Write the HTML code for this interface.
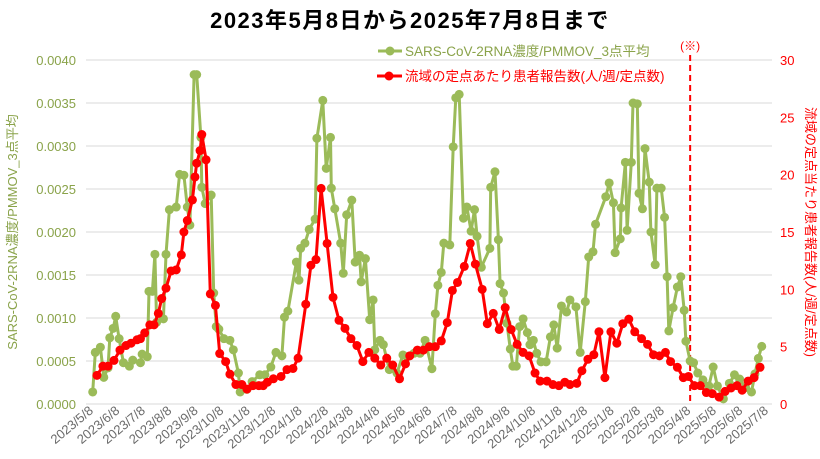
<!DOCTYPE html>
<html><head><meta charset="utf-8"><style>
body{margin:0;background:#fff;}
svg{display:block;font-family:"Liberation Sans","Noto Sans CJK JP",sans-serif;}
</style></head><body>
<svg id="c" width="820" height="459" viewBox="0 0 820 459"></svg>
<script>
const monthLabels=["2023/5/8","2023/6/8","2023/7/8","2023/8/8","2023/9/8","2023/10/8","2023/11/8","2023/12/8","2024/1/8","2024/2/8","2024/3/8","2024/4/8","2024/5/8","2024/6/8","2024/7/8","2024/8/8","2024/9/8","2024/10/8","2024/11/8","2024/12/8","2025/1/8","2025/2/8","2025/3/8","2025/4/8","2025/5/8","2025/6/8","2025/7/8"];
const leftTicks=[0,0.0005,0.001,0.0015,0.002,0.0025,0.003,0.0035,0.004];
const rightTicks=[0,5,10,15,20,25,30];
const redDays=[7,14,20,27,34,41,47,54,58,63,69,74,79,83,88,94,100,106,109,113,119,122,124,128,130,135,140,146,151,158,163,170,177,183,190,197,202,207,214,223,230,237,243,252,258,264,270,277,284,291,298,305,312,319,326,333,340,347,354,362,369,374,383,390,397,404,411,418,424,430,438,445,451,459,465,472,479,486,493,500,507,514,521,527,535,542,549,556,562,570,576,583,590,596,603,610,617,624,631,638,646,653,660,667,674,680,688,695,701,708,715,722,729,737,744,751,758,764,771,778,785];
const redVals=[2.5,3.3,3.3,3.8,4.7,5.1,5.3,5.6,5.7,6.2,6.9,6.9,7.9,9.2,10.1,11.6,11.7,13.0,15.0,16.0,17.8,19.8,21.0,22.1,23.5,21.3,9.6,8.6,4.4,3.7,2.6,1.7,1.7,1.3,1.6,1.6,1.6,1.9,2.2,2.4,3.0,3.1,4.0,8.7,12.1,12.6,18.8,14.0,9.3,7.3,6.6,5.7,5.1,3.7,4.5,4.0,3.4,4.0,3.4,2.2,3.5,4.2,4.7,4.7,5.0,5.0,5.5,7.1,9.9,10.6,12.0,14.0,12.2,10.0,7.0,7.9,6.5,8.4,6.5,5.2,4.5,4.2,2.7,2.0,2.0,1.7,1.6,1.9,1.7,1.8,2.9,3.9,4.3,6.3,2.3,6.3,5.3,7.0,7.4,6.3,5.7,5.2,4.3,4.2,4.5,3.7,3.2,2.3,2.4,1.6,1.6,1.0,0.9,0.6,1.1,1.4,1.6,1.2,2.0,2.3,3.2];
const greenDays=[2,5,11,15,20,22,26,29,33,38,45,49,58,60,66,68,72,75,77,85,88,92,100,104,109,113,116,121,124,129,130,134,141,144,147,150,156,163,167,173,175,183,189,198,204,211,217,224,227,231,241,244,246,251,256,263,265,272,276,281,282,286,293,296,300,306,310,315,317,322,327,331,333,339,343,350,359,366,371,379,386,392,400,404,407,411,414,421,425,428,432,437,441,446,450,453,458,468,469,474,478,480,484,488,492,495,499,503,507,512,515,519,523,528,534,539,543,547,552,558,562,569,574,580,584,589,592,604,608,613,615,621,622,627,629,634,636,641,643,647,650,655,657,662,664,669,673,676,678,683,688,692,696,698,703,707,712,718,725,730,735,742,749,755,761,768,775,779,783,787];
const greenVals=[0.00014,0.00060,0.00066,0.00031,0.00042,0.00077,0.00088,0.00102,0.00076,0.00048,0.00044,0.00051,0.00048,0.00058,0.00055,0.00131,0.00131,0.00174,0.00095,0.00099,0.00174,0.00226,0.00229,0.00267,0.00266,0.00229,0.00208,0.00383,0.00383,0.00310,0.00252,0.00233,0.00243,0.00129,0.00090,0.00087,0.00076,0.00074,0.00063,0.00036,0.00014,0.00017,0.00026,0.00034,0.00034,0.00043,0.00060,0.00056,0.00101,0.00108,0.00165,0.00144,0.00181,0.00187,0.00203,0.00215,0.00309,0.00353,0.00274,0.00310,0.00251,0.00227,0.00187,0.00152,0.00220,0.00237,0.00165,0.00173,0.00142,0.00169,0.00098,0.00121,0.00063,0.00074,0.00069,0.00040,0.00036,0.00057,0.00055,0.00059,0.00059,0.00074,0.00041,0.00105,0.00138,0.00153,0.00187,0.00185,0.00299,0.00356,0.00360,0.00216,0.00229,0.00201,0.00226,0.00195,0.00159,0.00181,0.00252,0.00270,0.00191,0.00140,0.00129,0.00094,0.00064,0.00044,0.00044,0.00090,0.00099,0.00083,0.00069,0.00074,0.00059,0.00049,0.00049,0.00078,0.00092,0.00065,0.00114,0.00107,0.00121,0.00113,0.00060,0.00119,0.00171,0.00177,0.00209,0.00241,0.00257,0.00234,0.00176,0.00192,0.00228,0.00281,0.00202,0.00281,0.00350,0.00349,0.00245,0.00227,0.00297,0.00258,0.00200,0.00162,0.00251,0.00251,0.00217,0.00148,0.00085,0.00112,0.00136,0.00148,0.00109,0.00073,0.00050,0.00048,0.00036,0.00028,0.00021,0.00043,0.00021,0.00006,0.00024,0.00034,0.00029,0.00019,0.00014,0.00035,0.00053,0.00067];
const markerDay=703;

const NS="http://www.w3.org/2000/svg";
const svg=document.getElementById('c');
const X0=91,KX=675/792,Y0=404,YTOP=60;
function xs(d){return X0+d*KX;}
function yl(v){return Y0-(v/0.004)*(Y0-YTOP);}
function yr(v){return Y0-(v/30)*(Y0-YTOP);}
function mk(tag,attrs,txt){const e=document.createElementNS(NS,tag);for(const k in attrs)e.setAttribute(k,attrs[k]);if(txt!=null)e.textContent=txt;svg.appendChild(e);return e;}
const GREEN="#9bbb59",RED="#ff0000";

let e=mk('text',{x:410,y:28,'text-anchor':'middle','font-size':22,'font-weight':'bold','letter-spacing':'1.5',fill:'#000'},'2023年5月8日から2025年7月8日まで');



leftTicks.forEach(v=>{
  const y=yl(v);
  let g=mk('line',{x1:86,x2:772,y1:y,y2:y,stroke:'#d9d9d9','stroke-width':1});
  
  
  let t=mk('text',{x:76,y:y+5,'text-anchor':'end','font-size':13,fill:'#8aa34a'},v.toFixed(4));
  
  
});
rightTicks.forEach(v=>{
  let t=mk('text',{x:780,y:yr(v)+5,'font-size':13,fill:RED},String(v));
  
  
});
monthLabels.forEach(lbl=>{
  const p=lbl.split('/');
  const d=(new Date(+p[0],+p[1]-1,+p[2])-new Date(2023,4,8))/86400000;
  const x=xs(d);
  let t=mk('text',{x:x+3,y:412,'text-anchor':'end','font-size':13,fill:'#6b6b6b',transform:`rotate(-40 ${x+3} 412)`},lbl);
  
  
});

e=mk('text',{x:17,y:232,'text-anchor':'middle','font-size':13,fill:'#8aa34a',transform:'rotate(-90 17 232)'},'SARS-CoV-2RNA濃度/PMMOV_3点平均');


e=mk('text',{x:806,y:232,'text-anchor':'middle','font-size':13,fill:RED,transform:'rotate(90 806 232)'},'流域の定点当たり患者報告数(人/週/定点数)');



const xm=xs(markerDay);
e=mk('line',{x1:xm,x2:xm,y1:55,y2:404,stroke:RED,'stroke-width':2,'stroke-dasharray':'6,4'});


e=mk('text',{x:xm,y:50,'text-anchor':'middle','font-size':12,fill:RED},'(※)');



function series(days,vals,yf,color,name){
  const pts=days.map((d,i)=>xs(d).toFixed(1)+','+yf(vals[i]).toFixed(1)).join(' ');
  let l=mk('polyline',{points:pts,fill:'none',stroke:color,'stroke-width':3,'stroke-linejoin':'round'});
  
  
  days.forEach((d,i)=>{
    let c=mk('circle',{cx:xs(d),cy:yf(vals[i]),r:4.5,fill:color});
    
    
  });
}
series(greenDays,greenVals,yl,GREEN,'rna-concentration');
series(redDays,redVals,yr,RED,'patient-reports');

e=mk('line',{x1:378,x2:402,y1:51,y2:51,stroke:GREEN,'stroke-width':3});


e=mk('circle',{cx:390,cy:51,r:4.5,fill:GREEN});


e=mk('text',{x:405,y:56,'font-size':13.5,fill:'#8aa34a'},'SARS-CoV-2RNA濃度/PMMOV_3点平均');


e=mk('line',{x1:377,x2:402,y1:76,y2:76,stroke:RED,'stroke-width':3});


e=mk('circle',{cx:389,cy:76,r:4.5,fill:RED});


e=mk('text',{x:405,y:81,'font-size':13.5,fill:RED},'流域の定点あたり患者報告数(人/週/定点数)');


</script>
</body></html>
